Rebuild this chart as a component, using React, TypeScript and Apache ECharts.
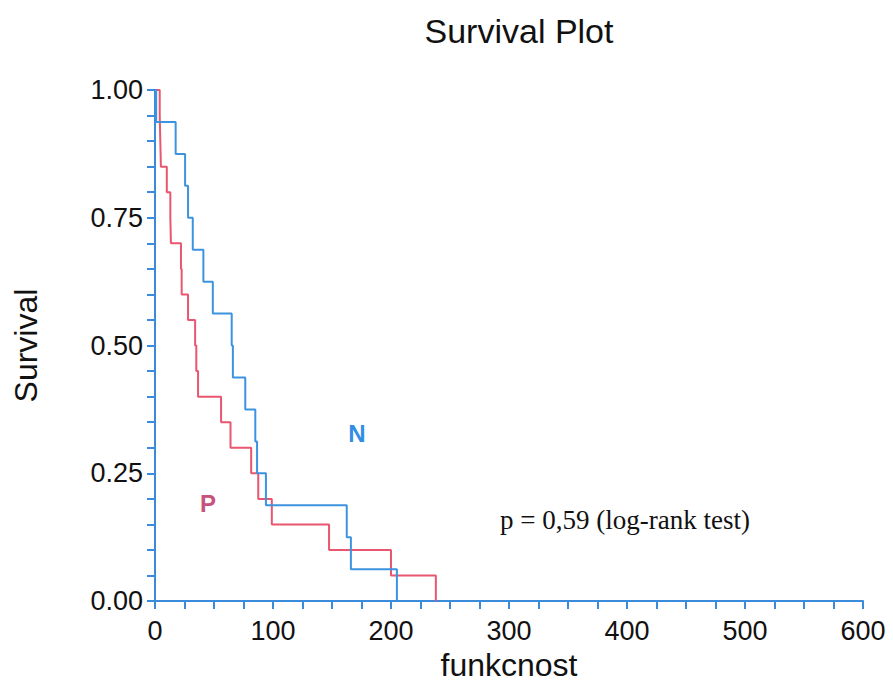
import React, { useEffect, useRef } from "react";
import * as echarts from "echarts";

// Kaplan-Meier step data: [time, survival after event]
const groupNTimes = [0, 1, 17.5, 25.5, 28, 32, 41, 49, 65, 66, 76.5, 85, 86.5, 94, 162.5, 166, 205];
const groupNSurv = [1, 0.9375, 0.875, 0.8125, 0.75, 0.6875, 0.625, 0.5625, 0.5, 0.4375, 0.375, 0.3125, 0.25, 0.1875, 0.125, 0.0625, 0];

const groupPTimes = [0, 4, 4.5, 5, 10, 13, 13.5, 22, 22.6, 28, 34, 35, 36.5, 56, 64, 81.5, 87.5, 99, 147.5, 200, 238];
const groupPSurv = [1, 0.95, 0.9, 0.85, 0.8, 0.75, 0.7, 0.65, 0.6, 0.55, 0.5, 0.45, 0.4, 0.35, 0.3, 0.25, 0.2, 0.15, 0.1, 0.05, 0];

const xTicks = { min: 0, max: 600, interval: 100 };
const yTicks = { min: 0, max: 1, interval: 0.25 };

const groupLabels = ["N", "P"];
const pValueText = "p = 0,59 (log-rank test)";

const AXIS_BLUE = "#3a8cdb";
const N_COLOR = "#3c93e0";
const P_COLOR = "#e9566f";
const SANS = "Liberation Sans, Arial, sans-serif";

export default function App() {
  const ref = useRef<HTMLDivElement>(null);

  useEffect(() => {
    if (!ref.current) return;
    const chart = echarts.init(ref.current, undefined, { renderer: "svg" });
    const nData = groupNTimes.map((t, i) => [t, groupNSurv[i]]);
    const pData = groupPTimes.map((t, i) => [t, groupPSurv[i]]);

    const axisCommon = {
      axisLine: { show: true, lineStyle: { color: AXIS_BLUE, width: 2 } },
      axisTick: { show: true, length: 8, lineStyle: { color: AXIS_BLUE, width: 2 } },
      minorTick: { show: true, length: 8, lineStyle: { color: AXIS_BLUE, width: 2 } },
      splitLine: { show: false },
      minorSplitLine: { show: false },
    };

    chart.setOption({
      animation: false,
      backgroundColor: "#ffffff",
      title: {
        text: "Survival Plot",
        left: 514,
        top: 9,
        textAlign: "center",
        textStyle: {
          fontFamily: SANS,
          fontWeight: "normal",
          fontSize: 34,
          color: "#111",
        },
      },
      grid: { left: 155, right: 30, top: 90, bottom: 69, containLabel: false },
      xAxis: {
        type: "value",
        min: xTicks.min,
        max: xTicks.max,
        interval: xTicks.interval,
        name: "funkcnost",
        nameLocation: "middle",
        nameGap: 45,
        nameTextStyle: {
          fontFamily: SANS,
          fontSize: 32,
          color: "#111",
        },
        axisLabel: {
          margin: 16,
          fontFamily: SANS,
          fontSize: 27,
          color: "#111",
        },
        ...axisCommon,
        minorTick: { ...axisCommon.minorTick, splitNumber: 4 },
      },
      yAxis: {
        type: "value",
        min: yTicks.min,
        max: yTicks.max,
        interval: yTicks.interval,
        name: "Survival",
        nameLocation: "middle",
        nameGap: 113,
        nameTextStyle: {
          fontFamily: SANS,
          fontSize: 32,
          color: "#111",
        },
        axisLabel: {
          margin: 12,
          fontFamily: SANS,
          fontSize: 27,
          color: "#111",
          formatter: (v: number) => v.toFixed(2),
        },
        ...axisCommon,
        minorTick: { ...axisCommon.minorTick, splitNumber: 5 },
      },
      series: [
        {
          name: groupLabels[0],
          type: "line",
          step: "end",
          data: nData,
          showSymbol: false,
          lineStyle: { color: N_COLOR, width: 2 },
          itemStyle: { color: N_COLOR },
          z: 3,
        },
        {
          name: groupLabels[1],
          type: "line",
          step: "end",
          data: pData,
          showSymbol: false,
          lineStyle: { color: P_COLOR, width: 2 },
          itemStyle: { color: P_COLOR },
          z: 2,
        },
      ],
      graphic: [
        {
          type: "text",
          x: 357,
          y: 433,
          style: {
            text: groupLabels[0],
            fill: "#2f8ee6",
            font: "bold 24px " + SANS,
            align: "center",
            verticalAlign: "middle",
          },
        },
        {
          type: "text",
          x: 208,
          y: 503,
          style: {
            text: groupLabels[1],
            fill: "#c9527c",
            font: "bold 24px " + SANS,
            align: "center",
            verticalAlign: "middle",
          },
        },
        {
          type: "text",
          x: 500,
          y: 520,
          style: {
            text: pValueText,
            fill: "#111",
            font: "27px Liberation Serif, Times New Roman, serif",
            align: "left",
            verticalAlign: "middle",
          },
        },
      ],
    });
    return () => chart.dispose();
  }, []);

  return (
    <div
      ref={ref}
      style={{ position: "fixed", left: 0, top: 0, width: 893, height: 686, background: "#fff" }}
    />
  );
}
